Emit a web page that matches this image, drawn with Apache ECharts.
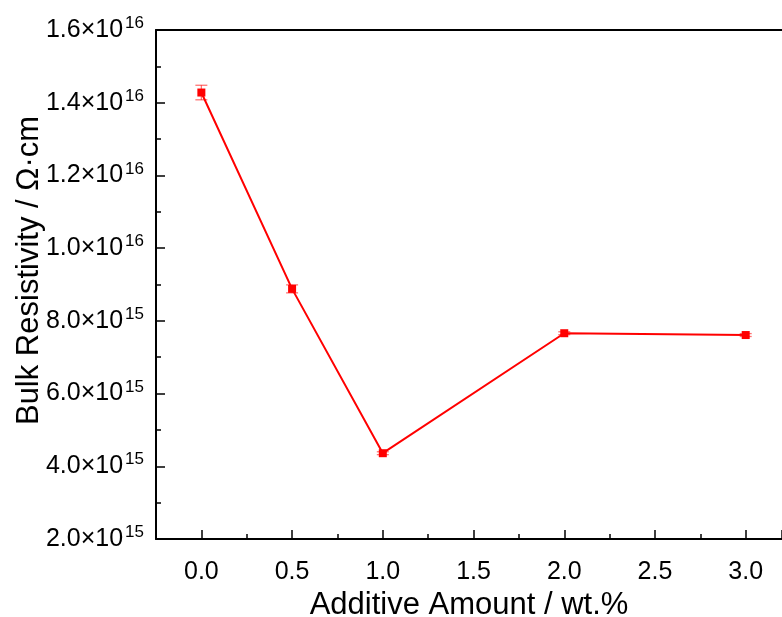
<!DOCTYPE html>
<html>
<head>
<meta charset="utf-8">
<script src="https://cdn.jsdelivr.net/npm/echarts@6/dist/echarts.min.js"></script>
<style>
  html, body { margin: 0; padding: 0; background: #fff; }
  #chart { width: 782px; height: 617px; }
</style>
</head>
<body>
<div id="chart"></div>
<script>
// Additive content (wt.%)
const additiveAmount = [0, 0.5, 1.0, 2.0, 3.0];
// Bulk resistivity (Ω·cm)
const bulkResistivity = [1.428e16, 8.88e15, 4.36e15, 7.66e15, 7.61e15];
// Standard deviation of each measurement (Ω·cm)
const resistivityError = [2.0e14, 1.1e14, 4e13, 4e13, 4e13];

const FONT = '"Liberation Sans", Arial, sans-serif';
const RED = '#ff0000';

function sciLabel(v) {
  const exp = Math.floor(Math.log10(v) + 1e-9);
  const mant = (v / Math.pow(10, exp)).toFixed(1);
  return '{m|' + mant + '×10}{e|' + exp + '}';
}

const chart = echarts.init(document.getElementById('chart'));

const points = additiveAmount.map((x, i) => [x, bulkResistivity[i]]);
const bars = additiveAmount.map((x, i) => [x, bulkResistivity[i] - resistivityError[i], bulkResistivity[i] + resistivityError[i]]);

const axisLineStyle = { color: '#000', width: 2 };

chart.setOption({
  animation: false,
  grid: { left: 156, top: 30, right: 0, bottom: 78, outerBoundsMode: 'none', containLabel: false },
  xAxis: [{
    type: 'value',
    min: -0.25,
    max: 3.2,
    splitNumber: 6,
    name: 'Additive Amount / wt.%',
    nameLocation: 'middle',
    nameGap: 51,
    nameMoveOverlap: false,
    nameTextStyle: { fontFamily: FONT, fontSize: 31, color: '#000' },
    axisLine: { show: true, onZero: false, lineStyle: axisLineStyle },
    axisTick: { show: true, inside: true, length: 9, lineStyle: { color: '#000', width: 1.5 } },
    minorTick: { show: true, splitNumber: 2, length: 5, lineStyle: { color: '#000', width: 1.5 } },
    axisLabel: {
      fontFamily: FONT, fontSize: 25, color: '#000', margin: 21,
      showMinLabel: false, showMaxLabel: false,
      formatter: v => (Math.abs(v * 2 - Math.round(v * 2)) < 1e-6 ? v.toFixed(1) : '')
    },
    splitLine: { show: false }
  }, {
    type: 'value',
    position: 'top',
    min: -0.25,
    max: 3.2,
    axisLine: { show: true, onZero: false, lineStyle: axisLineStyle },
    axisTick: { show: false },
    axisLabel: { show: false },
    splitLine: { show: false }
  }],
  yAxis: {
    type: 'value',
    min: 2e15,
    max: 1.6e16,
    interval: 2e15,
    name: 'Bulk Resistivity / Ω·cm',
    nameLocation: 'middle',
    nameGap: 111,
    nameMoveOverlap: false,
    nameTextStyle: { fontFamily: FONT, fontSize: 31, color: '#000', padding: [0, 0, 0, 28] },
    axisLine: { show: true, onZero: false, lineStyle: axisLineStyle },
    axisTick: { show: true, inside: true, length: 9, lineStyle: { color: '#000', width: 1.5 } },
    minorTick: { show: true, splitNumber: 2, length: 5, lineStyle: { color: '#000', width: 1.5 } },
    axisLabel: {
      margin: 12,
      formatter: sciLabel,
      rich: {
        m: { fontFamily: FONT, fontSize: 25, color: '#000' },
        e: { fontFamily: FONT, fontSize: 17, color: '#000', padding: [0, 0, 13, 2] }
      }
    },
    splitLine: { show: false }
  },
  series: [{
    type: 'line',
    data: points,
    symbol: 'rect',
    symbolSize: 8,
    lineStyle: { color: RED, width: 2 },
    itemStyle: { color: RED },
    z: 3
  }, {
    type: 'custom',
    data: bars,
    z: 2,
    renderItem: function (params, api) {
      const x = api.value(0);
      const lo = api.coord([x, api.value(1)]);
      const hi = api.coord([x, api.value(2)]);
      const hw = 6;
      const style = { stroke: 'rgba(255,0,0,0.55)', lineWidth: 1.3, fill: null };
      return {
        type: 'group',
        children: [
          { type: 'line', shape: { x1: lo[0], y1: lo[1], x2: hi[0], y2: hi[1] }, style },
          { type: 'line', shape: { x1: lo[0] - hw, y1: lo[1], x2: lo[0] + hw, y2: lo[1] }, style },
          { type: 'line', shape: { x1: hi[0] - hw, y1: hi[1], x2: hi[0] + hw, y2: hi[1] }, style }
        ]
      };
    }
  }]
});
</script>
</body>
</html>
